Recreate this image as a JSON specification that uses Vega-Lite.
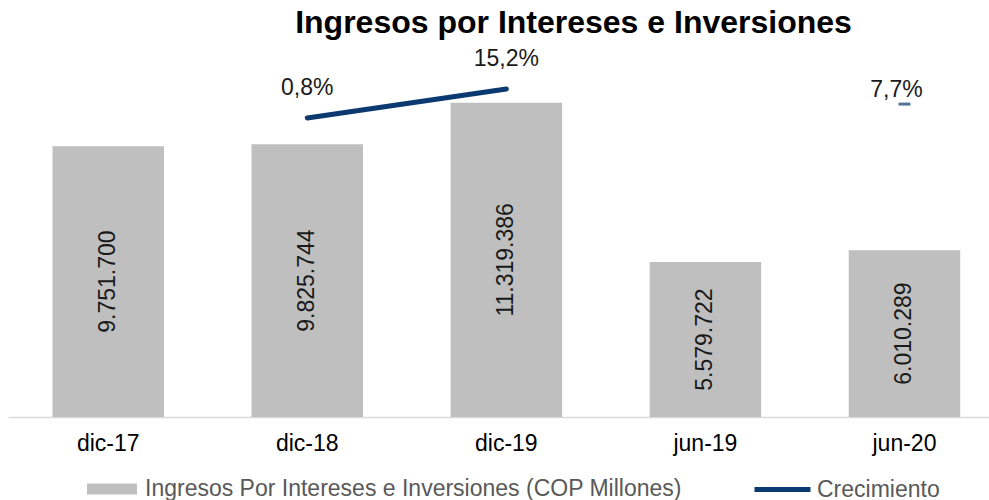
{
  "$schema": "https://vega.github.io/schema/vega-lite/v6.json",
  "width": 981,
  "height": 367,
  "autosize": {"type": "none"},
  "padding": {"left": 8, "top": 50, "right": 0, "bottom": 83},
  "background": "white",
  "config": {
    "font": "Liberation Sans",
    "view": {"stroke": null},
    "locale": {"number": {"decimal": ",", "thousands": ".", "grouping": [3], "currency": ["$", ""]}}
  },
  "title": {
    "text": "Ingresos por Intereses e Inversiones",
    "fontSize": 32,
    "fontWeight": "bold",
    "font": "Liberation Sans",
    "color": "#000000",
    "anchor": "middle",
    "dx": 75,
    "offset": 8
  },
  "data": {
    "values": [
      {"Periodo": "dic-17", "Ingresos": 9751700, "Crecimiento": null},
      {"Periodo": "dic-18", "Ingresos": 9825744, "Crecimiento": 0.008},
      {"Periodo": "dic-19", "Ingresos": 11319386, "Crecimiento": 0.152},
      {"Periodo": "jun-19", "Ingresos": 5579722, "Crecimiento": null},
      {"Periodo": "jun-20", "Ingresos": 6010289, "Crecimiento": 0.077}
    ]
  },
  "encoding": {
    "x": {
      "field": "Periodo",
      "type": "nominal",
      "sort": null,
      "scale": {"paddingInner": 0.44, "paddingOuter": 0.184, "align": 0.607},
      "axis": {
        "title": null,
        "labelAngle": 0,
        "labelFontSize": 23,
        "labelColor": "#000000",
        "labelFont": "Liberation Sans",
        "labelPadding": 15,
        "ticks": false,
        "domainColor": "#d9d9d9",
        "domainWidth": 1.5,
        "grid": false
      }
    }
  },
  "layer": [
    {
      "mark": {"type": "bar", "color": "#bfbfbf"},
      "encoding": {
        "y": {"field": "Ingresos", "type": "quantitative", "scale": {"domain": [0, 13220000], "nice": false, "zero": false}, "axis": null},
        "fill": {
          "datum": "Ingresos Por Intereses e Inversiones (COP Millones)",
          "type": "nominal",
          "scale": {"range": ["#bfbfbf"]},
          "legend": {
            "title": null,
            "orient": "none",
            "legendX": 79,
            "legendY": 414,
            "padding": 0,
            "symbolType": "M-1,-0.22H1V0.22H-1Z",
            "symbolSize": 2500,
            "symbolStrokeWidth": 0,
            "labelFontSize": 23,
            "labelColor": "#595959",
            "labelFont": "Liberation Sans",
            "labelOffset": 8,
            "labelLimit": 800
          }
        }
      }
    },
    {
      "mark": {"type": "text", "angle": 270, "align": "center", "baseline": "middle", "fontSize": 23, "color": "#1a1a1a"},
      "encoding": {
        "y": {"field": "Ingresos", "type": "quantitative", "scale": {"domain": [0, 26440000], "nice": false, "zero": false}, "axis": null},
        "text": {"field": "Ingresos", "type": "quantitative", "format": ",d"}
      }
    },
    {
      "transform": [{"filter": "datum.Periodo == 'dic-18' || datum.Periodo == 'dic-19'"}],
      "mark": {"type": "line", "strokeWidth": 5, "strokeCap": "round"},
      "encoding": {
        "y": {"field": "Crecimiento", "type": "quantitative", "scale": {"domain": [-1.477, 0.3456], "nice": false, "zero": false}, "axis": null},
        "stroke": {
          "datum": "Crecimiento",
          "type": "nominal",
          "scale": {"range": ["#0b3a70"]},
          "legend": {
            "title": null,
            "orient": "none",
            "legendX": 744,
            "legendY": 409,
            "padding": 0,
            "symbolType": "stroke",
            "symbolSize": 3136,
            "symbolStrokeWidth": 5,
            "labelFontSize": 23,
            "labelColor": "#595959",
            "labelFont": "Liberation Sans",
            "labelOffset": 4
          }
        }
      }
    },
    {
      "transform": [{"filter": "datum.Periodo == 'jun-20'"}],
      "mark": {"type": "tick", "color": "#0b3a70", "size": 12, "thickness": 3, "orient": "horizontal"},
      "encoding": {
        "y": {"field": "Crecimiento", "type": "quantitative", "scale": {"domain": [-1.477, 0.3456], "nice": false, "zero": false}, "axis": null}
      }
    },
    {
      "transform": [{"filter": "datum.Crecimiento != null && datum.Periodo != 'jun-20'"}],
      "mark": {"type": "text", "fontSize": 23, "color": "#1a1a1a", "dy": -30, "baseline": "middle"},
      "encoding": {
        "y": {"field": "Crecimiento", "type": "quantitative", "scale": {"domain": [-1.477, 0.3456], "nice": false, "zero": false}, "axis": null},
        "text": {"field": "Crecimiento", "type": "quantitative", "format": ".1%"}
      }
    },
    {
      "transform": [{"filter": "datum.Periodo == 'jun-20'"}],
      "mark": {"type": "text", "fontSize": 23, "color": "#1a1a1a", "dy": -14, "dx": -8, "baseline": "middle"},
      "encoding": {
        "y": {"field": "Crecimiento", "type": "quantitative", "scale": {"domain": [-1.477, 0.3456], "nice": false, "zero": false}, "axis": null},
        "text": {"field": "Crecimiento", "type": "quantitative", "format": ".1%"}
      }
    }
  ],
  "resolve": {"scale": {"y": "independent"}}
}
